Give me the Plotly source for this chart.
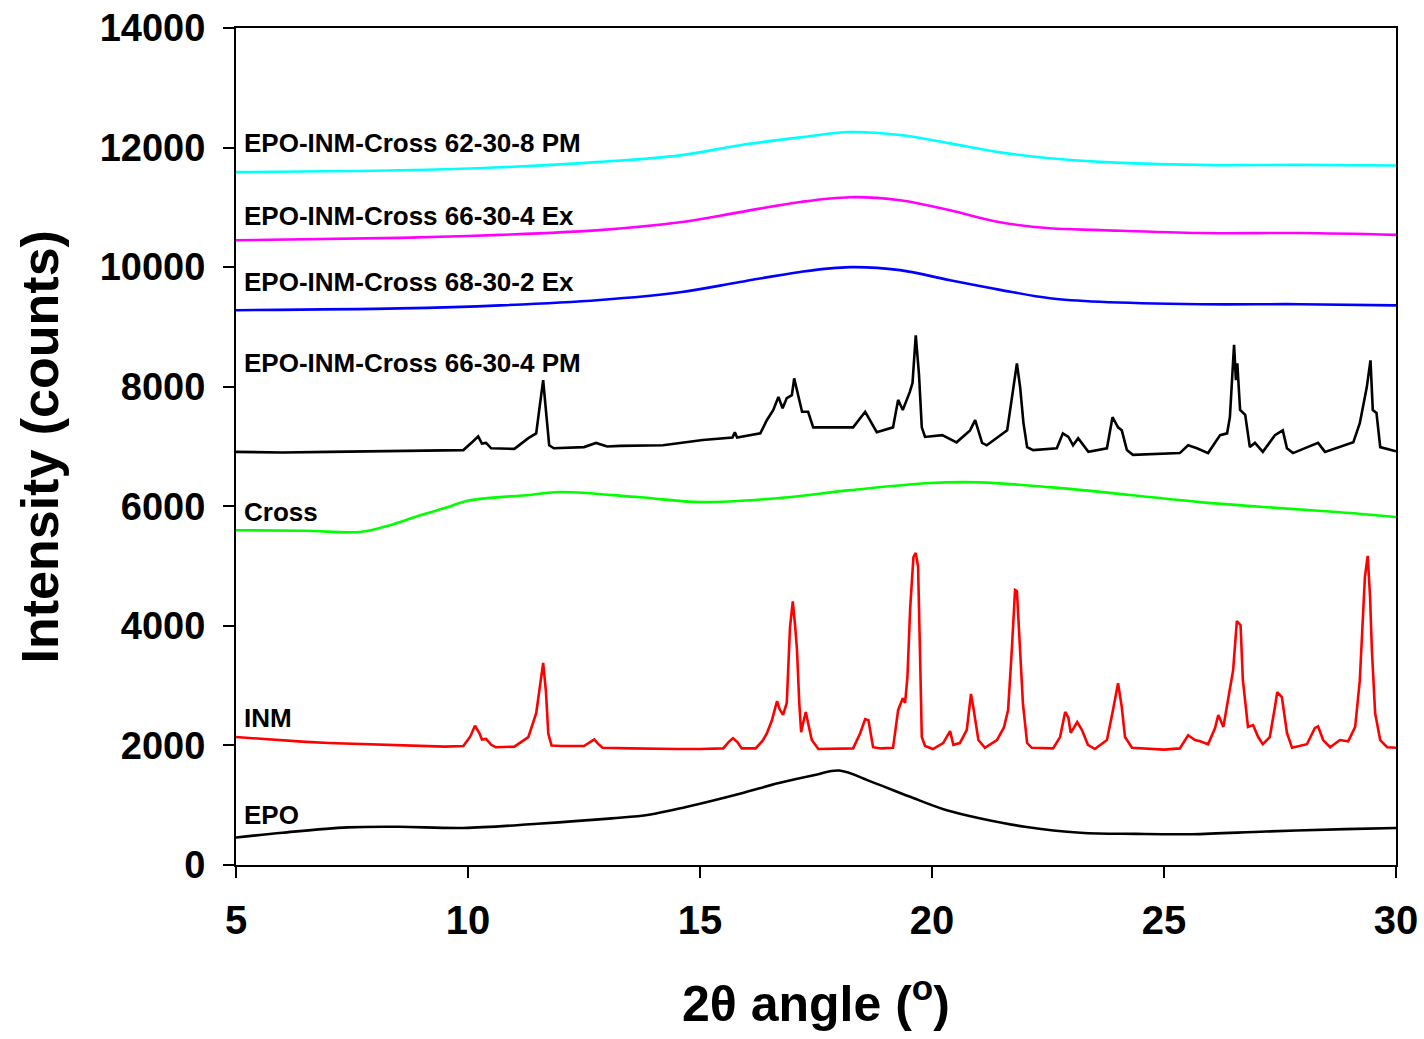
import plotly.graph_objects as go

# ---------------- data (2theta in degrees, intensity in counts) ----------------
epo_x = [5.0, 6.0, 7.4, 8.5, 9.9, 11.5, 13.1, 13.9, 14.7, 15.9, 16.7, 17.5, 18.0, 18.7, 19.5, 20.3, 21.1, 22.0, 23.2, 24.4, 25.6, 27.2, 28.9, 30.0]
epo_y = [460, 540, 630, 640, 620, 690, 780, 840, 970, 1200, 1370, 1510, 1580, 1390, 1150, 920, 770, 640, 540, 520, 515, 560, 600, 620]

inm_x = [5.0, 5.5, 6.0, 6.5, 7.0, 7.5, 8.0, 8.5, 9.0, 9.5, 9.9, 10.05, 10.15, 10.25, 10.3, 10.39, 10.5, 10.6,
         11.0, 11.3, 11.47, 11.55, 11.62, 11.68, 11.73, 11.8, 12.0, 12.5, 12.65, 12.72, 12.8, 12.9,
         13.5, 14.0, 14.5, 15.0, 15.5, 15.62, 15.71, 15.8, 15.9, 16.2, 16.35, 16.44, 16.55, 16.66, 16.72,
         16.79, 16.87, 16.94, 17.0, 17.05, 17.09, 17.14, 17.18, 17.23, 17.28, 17.35, 17.41, 17.55,
         18.3, 18.45, 18.56, 18.63, 18.73, 18.9, 19.16, 19.27, 19.37, 19.42, 19.47, 19.53, 19.6, 19.65,
         19.7, 19.74, 19.78, 19.85, 20.02, 20.24, 20.39, 20.46, 20.6, 20.75, 20.84, 20.89, 20.95, 21.0,
         21.14, 21.4, 21.55, 21.64, 21.72, 21.79, 21.83, 21.9, 21.96, 22.05, 22.15, 22.61, 22.76, 22.87,
         22.94, 22.99, 23.13, 23.23, 23.36, 23.51, 23.77, 23.9, 24.01, 24.09, 24.16, 24.31, 25.0, 25.34,
         25.52, 25.67, 25.78, 25.95, 26.1, 26.17, 26.28, 26.39, 26.49, 26.57, 26.65, 26.7, 26.81, 26.92,
         27.03, 27.13, 27.28, 27.39, 27.44, 27.54, 27.65, 27.76, 28.08, 28.25, 28.32, 28.43, 28.58, 28.79,
         28.97, 29.12, 29.22, 29.33, 29.39, 29.44, 29.48, 29.55, 29.66, 29.81, 30.0]
inm_y = [2140, 2110, 2090, 2060, 2040, 2030, 2010, 2000, 1990, 1980, 1990, 2150, 2330, 2200, 2100, 2110, 2010, 1970,
         1980, 2140, 2540, 3000, 3380, 2900, 2200, 2000, 1990, 1990, 2060, 2100, 2030, 1960,
         1950, 1940, 1940, 1940, 1950, 2060, 2120, 2060, 1950, 1950, 2080, 2200, 2420, 2740, 2600,
         2510, 2710, 3980, 4410, 4000, 3600, 2700, 2220, 2400, 2560, 2300, 2090, 1940,
         1950, 2200, 2440, 2420, 1970, 1950, 1960, 2590, 2790, 2710, 3140, 4300, 5150, 5220,
         4990, 3600, 2140, 1990, 1940, 2040, 2240, 2010, 2040, 2260, 2860, 2640, 2300, 2090,
         1960, 2090, 2300, 2590, 3600, 4600, 4580, 3430, 2700, 2040, 1960, 1950, 2140, 2560,
         2460, 2210, 2390, 2260, 2010, 1940, 2090, 2590, 3040, 2640, 2140, 1960, 1930, 1950,
         2170, 2090, 2070, 2020, 2290, 2510, 2310, 2810, 3260, 4080, 4010, 3090, 2310, 2340,
         2140, 2020, 2140, 2640, 2890, 2810, 2210, 1960, 2020, 2290, 2320, 2090, 1970, 2090,
         2070, 2310, 3090, 4820, 5170, 4500, 3600, 2540, 2090, 1970, 1960]

cross_x = [5.0, 6.5, 7.67, 8.3, 8.97, 9.5, 10.04, 11.34, 11.98, 13.71, 15.01, 16.74, 18.25, 19.96, 21.03, 22.54, 24.27, 25.78, 27.5, 28.79, 30.0]
cross_y = [5600, 5590, 5570, 5680, 5850, 5970, 6100, 6190, 6240, 6150, 6070, 6140, 6270, 6390, 6400, 6320, 6190, 6070, 5970, 5900, 5820]

pm664_x = [5.0, 6.0, 7.0, 8.0, 9.0, 9.9, 10.1, 10.22, 10.3, 10.39, 10.5, 11.0, 11.3, 11.47, 11.55, 11.62, 11.68, 11.75,
           11.85, 12.5, 12.76, 13.0, 13.28, 14.2, 15.06, 15.7, 15.75, 15.8, 16.3, 16.44, 16.58, 16.69, 16.78,
           16.87, 16.98, 17.03, 17.09, 17.2, 17.33, 17.44, 18.3, 18.56, 18.81, 19.16, 19.27, 19.37, 19.52,
           19.58, 19.65, 19.72, 19.78, 19.85, 20.22, 20.53, 20.82, 20.93, 21.08, 21.18, 21.62, 21.72, 21.83,
           21.9, 21.97, 22.05, 22.18, 22.69, 22.82, 22.94, 23.04, 23.15, 23.37, 23.77, 23.89, 24.01, 24.09,
           24.2, 24.33, 25.34, 25.52, 25.71, 25.95, 26.21, 26.36, 26.42, 26.51, 26.55, 26.58, 26.64, 26.75,
           26.85, 26.96, 27.13, 27.39, 27.56, 27.65, 27.78, 28.21, 28.32, 28.47, 28.79, 29.08, 29.22, 29.37,
           29.45, 29.5, 29.58, 29.66, 30.0]
pm664_y = [6910, 6900, 6910, 6920, 6930, 6940, 7080, 7170, 7050, 7060, 6970, 6960, 7140, 7220, 7700, 8110, 7600, 7020,
           6970, 6990, 7060, 7000, 7010, 7020, 7110, 7150, 7240, 7150, 7220, 7440, 7610, 7830, 7640,
           7810, 7860, 8140, 7940, 7580, 7580, 7320, 7320, 7580, 7240, 7320, 7780, 7610, 7910,
           8060, 8860, 8200, 7320, 7160, 7190, 7070, 7270, 7440, 7060, 7020, 7270, 7830, 8390,
           7990, 7400, 6990, 6940, 6970, 7220, 7160, 7020, 7140, 6910, 6970, 7490, 7320, 7270,
           6940, 6860, 6890, 7020, 6970, 6890, 7190, 7220, 7490, 8700, 8110, 8390, 7610, 7530,
           6990, 7060, 6910, 7190, 7270, 6970, 6890, 7020, 7060, 6910, 6990, 7070, 7390, 7990,
           8440, 7610, 7560, 6990, 6920]

amorph_x = [5.0, 8.53, 10.69, 12.84, 14.57, 15.86, 17.16, 18.23, 19.31, 20.39, 21.47, 22.54, 23.62, 25.78, 27.93, 30.0]
ex682_y = [9280, 9310, 9360, 9450, 9580, 9750, 9920, 10000, 9950, 9780, 9620, 9480, 9420, 9380, 9380, 9360]
ex664_y = [10450, 10490, 10540, 10620, 10750, 10920, 11090, 11170, 11120, 10950, 10750, 10650, 10620, 10570, 10570, 10540]
pm628_y = [11590, 11620, 11670, 11760, 11870, 12040, 12170, 12260, 12210, 12070, 11920, 11820, 11760, 11710, 11710, 11700]

x_ticks = [5, 10, 15, 20, 25, 30]
y_ticks = [0, 2000, 4000, 6000, 8000, 10000, 12000, 14000]

labels = ["EPO-INM-Cross 62-30-8 PM", "EPO-INM-Cross 66-30-4 Ex", "EPO-INM-Cross 68-30-2 Ex",
          "EPO-INM-Cross 66-30-4 PM", "Cross", "INM", "EPO"]
label_y = [12074, 10853, 9749, 8395, 5903, 2458, 836]

# ---------------- figure ----------------
FONT = "Liberation Sans, Arial, sans-serif"
fig = go.Figure()
series = [
    (epo_x, epo_y, "#000000", "spline"),
    (inm_x, inm_y, "#FF0000", "linear"),
    (cross_x, cross_y, "#00FF00", "spline"),
    (pm664_x, pm664_y, "#000000", "linear"),
    (amorph_x, ex682_y, "#0000FF", "spline"),
    (amorph_x, ex664_y, "#FF00FF", "spline"),
    (amorph_x, pm628_y, "#00FFFF", "spline"),
]
for xs, ys, col, shp in series:
    fig.add_trace(go.Scatter(x=xs, y=ys, mode="lines", line=dict(color=col, width=2.6, shape=shp),
                             showlegend=False))

for txt, yv in zip(labels, label_y):
    fig.add_annotation(x=5.13, y=yv, text="<b>" + txt + "</b>", showarrow=False, xanchor="left",
                       yanchor="middle", font=dict(family=FONT, size=26, color="black"))

fig.add_annotation(xref="paper", yref="paper", x=-0.169, y=0.5, text="<b>Intensity (counts)</b>",
                   textangle=-90, showarrow=False, xanchor="center", yanchor="middle",
                   font=dict(family=FONT, size=52, color="black"))
fig.add_annotation(xref="paper", yref="paper", x=0.5, y=-0.161, text="<b>2θ angle (<sup>o</sup>)</b>",
                   showarrow=False, xanchor="center", yanchor="middle",
                   font=dict(family=FONT, size=50, color="black"))

fig.update_xaxes(range=[5, 30], tickvals=x_ticks, ticktext=[f"<b>{v}</b>" for v in x_ticks],
                 ticks="outside", ticklen=11, tickwidth=1.5, tickcolor="black",
                 showline=True, linecolor="black", linewidth=2, mirror=True, showgrid=False, zeroline=False,
                 tickfont=dict(family=FONT, size=40, color="black"), ticklabelstandoff=8, automargin=False)
fig.update_yaxes(range=[0, 14000], tickvals=y_ticks, ticktext=[f"<b>{v}</b>" for v in y_ticks],
                 ticks="outside", ticklen=11, tickwidth=1.5, tickcolor="black",
                 showline=True, linecolor="black", linewidth=2, mirror=True, showgrid=False, zeroline=False,
                 tickfont=dict(family=FONT, size=38, color="black"), ticklabelstandoff=10, automargin=False)

fig.update_layout(width=1424, height=1039, margin=dict(l=236, r=28, t=28, b=174),
                  paper_bgcolor="white", plot_bgcolor="white")

fig.write_html("out.html")
